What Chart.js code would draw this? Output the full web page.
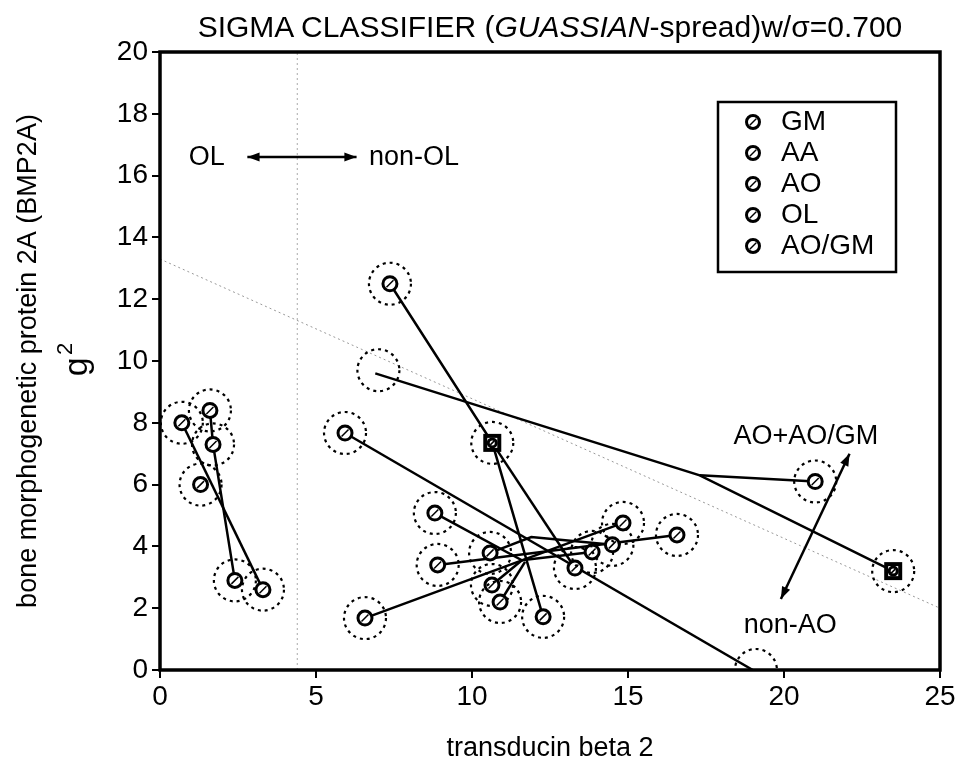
<!DOCTYPE html>
<html>
<head>
<meta charset="utf-8">
<script src="https://cdn.jsdelivr.net/npm/chart.js@4"></script>
<style>
body{margin:0;background:#fff;}
#wrap{position:relative;width:964px;height:769px;}
#title{position:absolute;left:160px;width:780px;top:10px;text-align:center;font:30px "Liberation Sans Narrow","Liberation Sans",sans-serif;color:#000;}
</style>
</head>
<body>
<div id="wrap">
<canvas id="c" width="964" height="769"></canvas>
<div id="title">SIGMA CLASSIFIER (<i>GUASSIAN</i>-spread)w/σ=0.700</div>
</div>
<script>
// ==========================================
// DATA
// ==========================================

const pointX = [0.7,1.6,1.7,1.3,2.4,3.3, 7.37,5.93,8.81,8.9,6.57,10.58,10.64,10.9,12.28,13.3,13.85,14.5,14.84,16.57,21.0];
const pointY = [8.0,8.4,7.3,6.0,2.9,2.6, 12.5,7.67,5.08,3.4,1.68,3.79,2.75,2.2,1.72,3.3,3.82,4.05,4.76,4.37,6.1];

const squareX = [10.65,23.5];
const squareY = [7.35,3.2];

// dashed circles with no marker
const emptyX = [7.0,19.1];
const emptyY = [9.7,0.0];

// connecting lines (polylines)
const links = [
  [[0.7,8.0],[3.3,2.6]],
  [[1.6,8.4],[1.7,7.3],[2.4,2.9]],
  [[7.37,12.5],[10.65,7.35],[12.28,1.72]],
  [[10.65,7.35],[13.3,3.3]],
  [[6.9,9.6],[17.3,6.3],[23.5,3.2]],
  [[17.3,6.3],[21.0,6.1]],
  [[5.93,7.67],[19.0,0]],
  [[8.81,5.08],[11.6,3.55],[13.85,3.82]],
  [[8.9,3.4],[16.57,4.37]],
  [[6.57,1.68],[11.6,3.55],[14.84,4.76]],
  [[10.58,3.79],[11.9,4.3],[14.5,4.05]],
  [[10.64,2.75],[11.6,3.55]],
  [[10.9,2.2],[11.7,3.5]]
];

// dotted boundary lines
const boundX = [0,25];
const boundY = [13.3,2.0];
const olLimit = 4.4;

const legendNames = ["GM","AA","AO","OL","AO/GM"];

const xTicks = [0,5,10,15,20,25];
const yTicks = [0,2,4,6,8,10,12,14,16,18,20];

// ==========================================
// CHART
// ==========================================

const FONT = '"Liberation Sans Narrow","Liberation Sans",sans-serif';

const datasets = [];

links.forEach(function(l){
    datasets.push({
        type:"line",
        data:l.map(p=>({x:p[0],y:p[1]})),
        borderColor:"#000",
        borderWidth:2.5,
        pointRadius:0,
        showLine:true,
        fill:false,
        tension:0
    });
});

datasets.push({
    type:"line",
    data:boundX.map((x,i)=>({x:x,y:boundY[i]})),
    borderColor:"#999",
    borderWidth:1,
    borderDash:[2,3],
    pointRadius:0
});
datasets.push({
    type:"line",
    data:[{x:olLimit,y:0},{x:olLimit,y:20}],
    borderColor:"#aaa",
    borderWidth:1,
    borderDash:[2,3],
    pointRadius:0
});

datasets.push({
    type:"scatter", ring:true, marker:"circle",
    data:pointX.map((x,i)=>({x:x,y:pointY[i]})),
    pointRadius:0
});
datasets.push({
    type:"scatter", ring:true, marker:"square",
    data:squareX.map((x,i)=>({x:x,y:squareY[i]})),
    pointRadius:0
});
datasets.push({
    type:"scatter", ring:true, marker:"none",
    data:emptyX.map((x,i)=>({x:x,y:emptyY[i]})),
    pointRadius:0
});

function hatchCircle(ctx,x,y,r){
    ctx.save();
    ctx.fillStyle="#fff";
    ctx.strokeStyle="#000";
    ctx.lineWidth=3;
    ctx.beginPath();ctx.arc(x,y,r,0,Math.PI*2);ctx.fill();ctx.stroke();
    ctx.lineWidth=1.5;
    ctx.beginPath();ctx.moveTo(x-r*0.5,y+r*0.5);ctx.lineTo(x+r*0.5,y-r*0.5);ctx.stroke();
    ctx.restore();
}

function arrowHead(ctx,x1,y1,x2,y2){
    const a=Math.atan2(y2-y1,x2-x1), L=13;
    ctx.beginPath();
    ctx.moveTo(x2,y2);
    ctx.lineTo(x2-L*Math.cos(a-0.35),y2-L*Math.sin(a-0.35));
    ctx.lineTo(x2-L*Math.cos(a+0.35),y2-L*Math.sin(a+0.35));
    ctx.closePath();ctx.fill();
}

function dblArrow(ctx,x1,y1,x2,y2){
    ctx.beginPath();ctx.moveTo(x1,y1);ctx.lineTo(x2,y2);ctx.stroke();
    arrowHead(ctx,x1,y1,x2,y2);
    arrowHead(ctx,x2,y2,x1,y1);
}

const decor = {
    id:"decor",
    afterDatasetsDraw(chart){
        const ctx=chart.ctx, xs=chart.scales.x, ys=chart.scales.y, a=chart.chartArea;
        // dashed rings and markers
        chart.data.datasets.forEach(function(ds,di){
            if(!ds.ring) return;
            chart.getDatasetMeta(di).data.forEach(function(el){
                ctx.save();
                ctx.beginPath();
                ctx.rect(a.left,a.top,a.right-a.left,a.bottom-a.top);
                ctx.clip();
                ctx.strokeStyle="#000";ctx.lineWidth=2.2;ctx.setLineDash([3,4]);
                ctx.beginPath();ctx.arc(el.x,el.y,21,0,Math.PI*2);ctx.stroke();
                ctx.restore();
                if(ds.marker==="circle") hatchCircle(ctx,el.x,el.y,7);
                if(ds.marker==="square"){
                    ctx.save();
                    ctx.fillStyle="#fff";ctx.strokeStyle="#000";ctx.lineWidth=4;
                    ctx.fillRect(el.x-7,el.y-7,14,14);ctx.strokeRect(el.x-7,el.y-7,14,14);
                    ctx.restore();
                    hatchCircle(ctx,el.x,el.y,4);
                }
            });
        });
        // frame
        ctx.save();
        ctx.strokeStyle="#000";ctx.lineWidth=3.5;
        ctx.strokeRect(a.left,a.top,a.right-a.left,a.bottom-a.top);
        // annotations
        ctx.fillStyle="#000";ctx.lineWidth=2.5;
        ctx.font="27px "+FONT;
        ctx.textBaseline="middle";
        ctx.textAlign="center";
        ctx.fillText("OL",xs.getPixelForValue(1.5),ys.getPixelForValue(16.6));
        ctx.textAlign="left";
        ctx.fillText("non-OL",xs.getPixelForValue(6.7),ys.getPixelForValue(16.6));
        dblArrow(ctx,xs.getPixelForValue(2.8),ys.getPixelForValue(16.6),xs.getPixelForValue(6.3),ys.getPixelForValue(16.6));
        ctx.textAlign="center";
        ctx.fillText("AO+AO/GM",xs.getPixelForValue(20.7),ys.getPixelForValue(7.55));
        ctx.fillText("non-AO",xs.getPixelForValue(20.2),ys.getPixelForValue(1.45));
        dblArrow(ctx,xs.getPixelForValue(19.9),ys.getPixelForValue(2.3),xs.getPixelForValue(22.1),ys.getPixelForValue(7.0));
        // legend box
        const lx=718, ly=102, lw=178, lh=170;
        ctx.fillStyle="#fff";
        ctx.fillRect(lx,ly,lw,lh);
        ctx.lineWidth=2.5;ctx.strokeRect(lx,ly,lw,lh);
        ctx.fillStyle="#000";ctx.textAlign="left";ctx.font="28px "+FONT;
        legendNames.forEach(function(n,i){
            const yy=ly+20+i*31;
            hatchCircle(ctx,lx+35,yy,6.5);
            ctx.fillText(n,lx+63,yy);
        });
        // g2 label
        ctx.save();
        ctx.translate(78,ys.getPixelForValue(10.1));
        ctx.rotate(-Math.PI/2);
        ctx.textAlign="center";
        ctx.font="34px "+FONT;
        ctx.fillText("g",-9,0);
        ctx.font="22px "+FONT;
        ctx.fillText("2",9,-12);
        ctx.restore();
        ctx.restore();
    }
};

const ctx = document.getElementById("c").getContext("2d");

const chart = new Chart(ctx,{
    type:"scatter",
    data:{datasets:datasets},
    options:{
        responsive:false,
        animation:false,
        layout:{padding:{top:52,right:24,left:8,bottom:0}},
        plugins:{legend:{display:false},tooltip:{enabled:false}},
        scales:{
            x:{
                type:"linear",min:0,max:25,
                afterBuildTicks:s=>{s.ticks=xTicks.map(v=>({value:v}));},
                afterFit:s=>{s.height=99;},
                grid:{drawOnChartArea:false,drawTicks:true,tickLength:8,color:"#000",lineWidth:2},
                border:{display:false},
                ticks:{color:"#000",font:{family:FONT,size:28},padding:2},
                title:{display:true,text:"transducin beta 2",color:"#000",font:{family:FONT,size:27},padding:{top:6}}
            },
            y:{
                type:"linear",min:0,max:20,
                afterBuildTicks:s=>{s.ticks=yTicks.map(v=>({value:v}));},
                afterFit:s=>{s.width=152;},
                grid:{drawOnChartArea:false,drawTicks:true,tickLength:8,color:"#000",lineWidth:2},
                border:{display:false},
                ticks:{color:"#000",font:{family:FONT,size:28},padding:4},
                title:{display:true,text:"bone morphogenetic protein 2A (BMP2A)",color:"#000",font:{family:FONT,size:27},padding:{bottom:0}}
            }
        }
    },
    plugins:[decor]
});
</script>
</body>
</html>
